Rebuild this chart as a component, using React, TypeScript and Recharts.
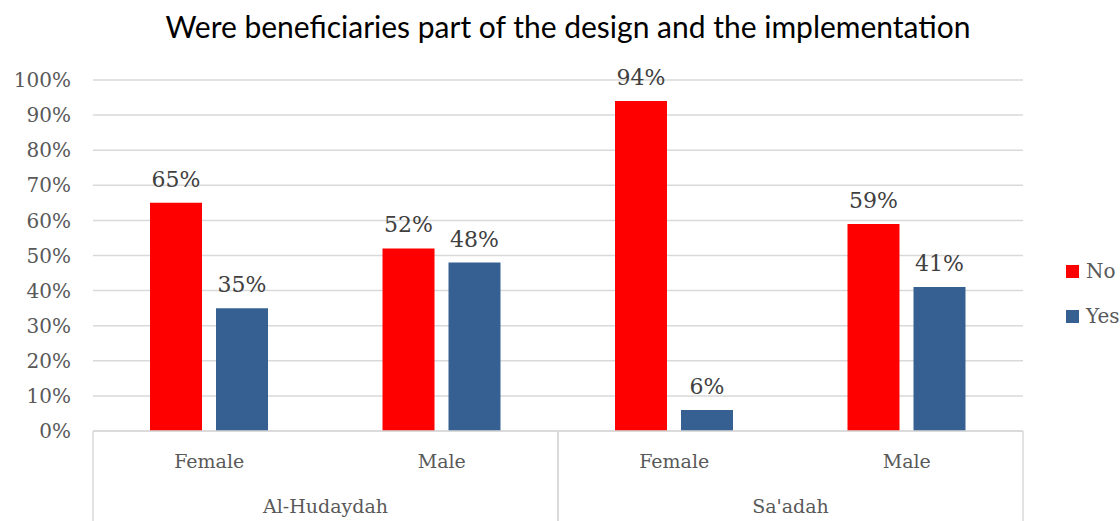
import { BarChart, Bar, XAxis, YAxis, CartesianGrid, LabelList } from 'recharts';

const genders = ['Female', 'Male', 'Female', 'Male'];
const regions = ['Al-Hudaydah', 'Al-Hudaydah', "Sa'adah", "Sa'adah"];
const noValues = [65, 52, 94, 59];
const yesValues = [35, 48, 6, 41];
const yTicks = [0, 10, 20, 30, 40, 50, 60, 70, 80, 90, 100];

const series = [
  { key: 'no', name: 'No', color: '#ff0000' },
  { key: 'yes', name: 'Yes', color: '#376092' },
];

const data = genders.map((g, i) => ({
  gender: g,
  region: regions[i],
  no: noValues[i],
  yes: yesValues[i],
}));

const WIDTH = 1120;
const HEIGHT = 521;
const PLOT_BOTTOM = 431;
const AXIS_FONT = '"DejaVu Serif", serif';
const GRID = '#d9d9d9';

const GenderTick = ({ x, y, payload }: any) => (
  <text x={x} y={y + 37} textAnchor="middle" fill="#595959" fontSize={19} fontFamily={AXIS_FONT}>
    {payload.value}
  </text>
);

const RegionTick = ({ x, y, payload }: any) => {
  const half = payload.offset || 232.5;
  return (
    <g>
      <line x1={x - half} x2={x - half} y1={PLOT_BOTTOM} y2={HEIGHT} stroke={GRID} strokeWidth={1.5} />
      <line x1={x + half} x2={x + half} y1={PLOT_BOTTOM} y2={HEIGHT} stroke={GRID} strokeWidth={1.5} />
      <text x={x} y={y + 37} textAnchor="middle" fill="#595959" fontSize={19} fontFamily={AXIS_FONT}>
        {payload.value}
      </text>
    </g>
  );
};

export default function App() {
  return (
    <div style={{ position: 'relative', width: WIDTH, height: HEIGHT, background: '#fff', overflow: 'hidden' }}>
      <style>{'body{margin:0;overflow:hidden}'}</style>
      <div
        style={{
          position: 'absolute',
          left: 0,
          width: 1136,
          top: 8,
          textAlign: 'center',
          fontFamily: 'Lato, sans-serif',
          fontSize: 30,
          color: '#000',
          lineHeight: '36px',
        }}
      >
        Were beneficiaries part of the design and the implementation
      </div>
      <BarChart
        width={WIDTH}
        height={HEIGHT}
        data={data}
        margin={{ top: 80, right: 97, bottom: 0, left: 0 }}
        barSize={52}
        barGap={14}
      >
        <CartesianGrid horizontal vertical={false} stroke={GRID} strokeWidth={1.5} />
        <YAxis
          width={93}
          domain={[0, 100]}
          ticks={yTicks}
          interval={0}
          axisLine={false}
          tickLine={false}
          tickSize={0}
          tickMargin={22}
          tickFormatter={(v: number) => `${v}%`}
          tick={{ fill: '#595959', fontSize: 20, fontFamily: AXIS_FONT }}
        />
        <XAxis
          dataKey="gender"
          height={45}
          interval={0}
          tickLine={false}
          tickSize={0}
          tickMargin={0}
          axisLine={{ stroke: GRID, strokeWidth: 1.5 }}
          tick={<GenderTick />}
        />
        <XAxis
          xAxisId="region"
          dataKey="region"
          allowDuplicatedCategory={false}
          height={45}
          interval={0}
          tickLine={false}
          tickSize={0}
          tickMargin={0}
          axisLine={false}
          tick={<RegionTick />}
        />
        {series.map((s) => (
          <Bar key={s.key} dataKey={s.key} name={s.name} fill={s.color} isAnimationActive={false}>
            <LabelList
              dataKey={s.key}
              position="top"
              offset={16}
              formatter={(v: any) => `${v}%`}
              fill="#404040"
              fontSize={22}
              fontFamily={AXIS_FONT}
            />
          </Bar>
        ))}
      </BarChart>
      {series.map((s, i) => (
        <div
          key={s.key}
          style={{
            position: 'absolute',
            left: 1066,
            top: 258 + i * 45,
            display: 'flex',
            alignItems: 'center',
            fontFamily: AXIS_FONT,
            fontSize: 20,
            color: '#595959',
            lineHeight: '26px',
            whiteSpace: 'nowrap',
          }}
        >
          <span style={{ display: 'inline-block', width: 13, height: 13, background: s.color, marginRight: 7 }} />
          {s.name}
        </div>
      ))}
    </div>
  );
}
